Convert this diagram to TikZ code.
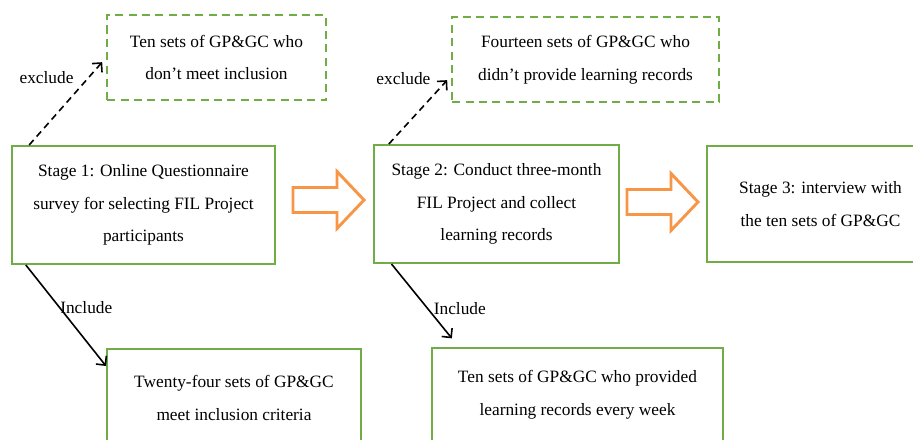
\documentclass[tikz,border=0pt]{standalone}
\usepackage{fontspec}
\setmainfont{Liberation Serif}
\usepackage{xcolor}
\usetikzlibrary{arrows.meta}
\definecolor{boxgreen}{RGB}{112,173,71}
\definecolor{flowarrow}{RGB}{247,150,70}

\tikzset{
stagebox/.style={draw=boxgreen, line width=1.5pt, align=center, inner sep=0pt,
  font=\fontsize{13}{24.5}\selectfont},
dropbox/.style={stagebox, dashed, dash pattern=on 6pt off 4pt},
flow/.style={draw=flowarrow, line width=2.2pt, line join=miter},
pick/.style={line width=1.2pt, -{Straight Barb[length=5pt,width=10pt]}},
skip/.style={pick, dashed, dash pattern=on 5pt off 3.5pt},
tag/.style={font=\fontsize{13}{14}\selectfont, inner sep=1pt}
}

\begin{document}
\begin{tikzpicture}[x=0.75pt, y=-0.75pt]
\useasboundingbox (0,0) rectangle (913,439);
\clip (0,0) rectangle (913,439);

%stages
\node[stagebox, minimum width=197pt, minimum height=88.5pt] (s1) at (143.5,205)
  {Stage 1: Online Questionnaire\\survey for selecting FIL Project\\participants};
\node[stagebox, minimum width=184pt, minimum height=88.5pt] (s2) at (496.5,204)
  {Stage 2: Conduct three-month\\FIL Project and collect\\learning records};
\node[stagebox, minimum width=170pt, minimum height=87pt] (s3) at (820.5,204)
  {Stage 3: interview with\\the ten sets of GP\&GC};

%excluded and included sets
\node[dropbox, minimum width=164pt, minimum height=64pt] (ex1) at (216.5,57.5)
  {Ten sets of GP\&GC who\\don’t meet inclusion};
\node[dropbox, minimum width=200pt, minimum height=64pt] (ex2) at (585.5,59.5)
  {Fourteen sets of GP\&GC who\\didn’t provide learning records};
\node[stagebox, minimum width=190.5pt, minimum height=73.5pt] (in1) at (234,398)
  {Twenty-four sets of GP\&GC\\meet inclusion criteria};
\node[stagebox, minimum width=218pt, minimum height=70.5pt] (in2) at (577.5,395)
  {Ten sets of GP\&GC who provided\\learning records every week};

%big arrows between stages
\coordinate (a1) at (293,200);
\coordinate (a2) at (627,202);
\foreach \a in {a1,a2}
  \draw[flow] (\a) ++(0,-12.5) -- ++(44,0) -- ++(0,-16) -- ++(27,28.5)
    -- ++(-27,28.5) -- ++(0,-16) -- ++(-44,0) -- cycle;

%exclude / include
\draw[skip] ([xshift=13.5pt]s1.north west) -- ([xshift=-3pt, yshift=-3.5pt]ex1.west)
  node[tag, pos=0.81, left, xshift=-9.5pt] {exclude};
\draw[skip] ([xshift=12pt]s2.north west) -- ([xshift=-3pt, yshift=-15.5pt]ex2.west)
  node[tag, pos=1, left, xshift=-11pt, yshift=1pt] {exclude};
\draw[pick] ([xshift=11pt]s1.south west) -- ([yshift=-13.5pt]in1.north west)
  node[tag, pos=0.42, anchor=west, inner sep=0pt] {Include};
\draw[pick] ([xshift=14pt]s2.south west) -- ([xshift=15.5pt, yshift=6.5pt]in2.north west)
  node[tag, pos=0.6, anchor=west, xshift=3pt] {Include};
\end{tikzpicture}
\end{document}
